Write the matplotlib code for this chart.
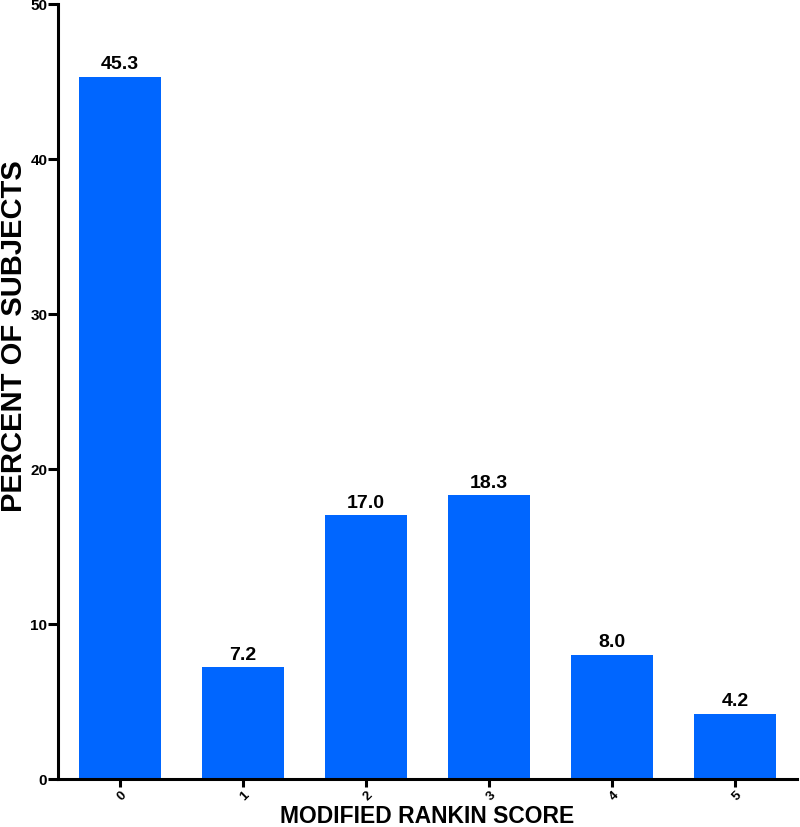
import matplotlib
matplotlib.use("Agg")
import matplotlib.pyplot as plt

categories = ["0", "1", "2", "3", "4", "5"]
values = [45.3, 7.2, 17.0, 18.3, 8.0, 4.2]
labels = ["45.3", "7.2", "17.0", "18.3", "8.0", "4.2"]
yticks = [0, 10, 20, 30, 40, 50]

plt.rcParams['font.family'] = ['Liberation Sans', 'DejaVu Sans']
plt.rcParams['font.weight'] = 'bold'

fig = plt.figure(figsize=(8, 8.28), dpi=100)
ax = fig.add_axes([0.073, 0.058, 0.923, 0.936])

x = list(range(len(categories)))
ax.bar(x, values, width=0.667, color='#0066FF', edgecolor='none')
for xi, v, lab in zip(x, values, labels):
    ax.text(xi, v + 0.3, lab, ha='center', va='bottom', fontsize=14, fontweight='bold')

ax.set_xlim(-0.5, 5.5)
ax.set_ylim(0, 50)
ax.set_yticks(yticks)
ax.set_xticks(x)
ax.set_xticklabels(categories, rotation=45, ha='right', va='top', rotation_mode='anchor')
for s in ['top', 'right']:
    ax.spines[s].set_visible(False)
for s in ['left', 'bottom']:
    ax.spines[s].set_linewidth(2.2)
ax.tick_params(axis='y', width=2.2, length=7, labelsize=11, pad=1)
ax.tick_params(axis='x', width=2.2, length=6, labelsize=9.5, pad=1)

ax.set_xlabel("MODIFIED RANKIN SCORE", fontsize=16.5, fontweight='bold', va='baseline')
ax.xaxis.set_label_coords(0.5, -0.0555)
ax.set_ylabel("PERCENT OF SUBJECTS", fontsize=21, fontweight='bold', va='baseline')
ax.yaxis.set_label_coords(-0.0487, 0.573)

fig.savefig("out.png", dpi=100)
